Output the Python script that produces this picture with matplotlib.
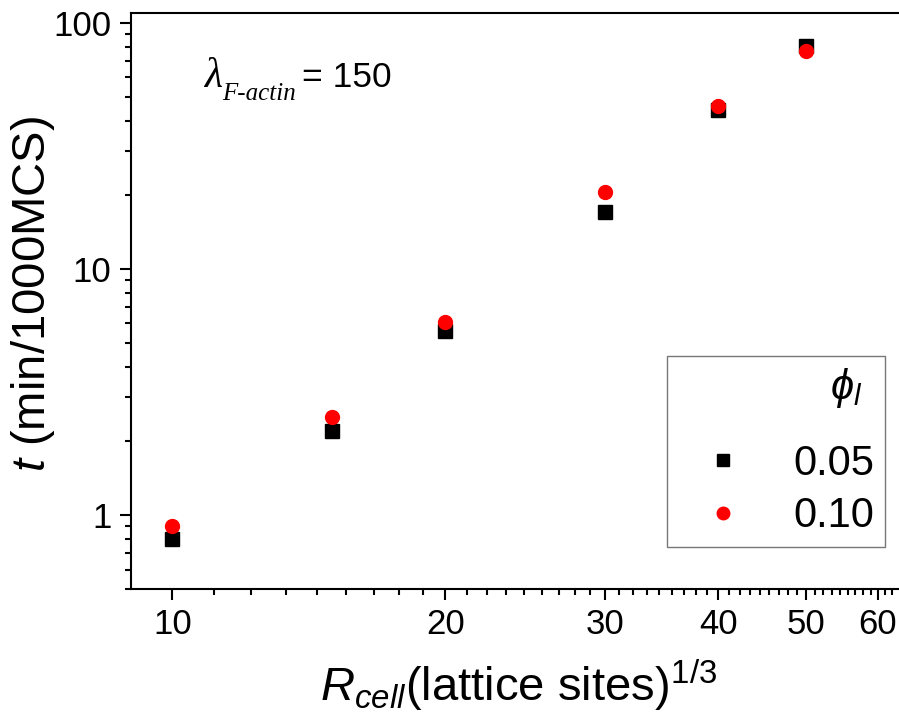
import numpy as np
import matplotlib
matplotlib.use("Agg")
import matplotlib.pyplot as plt
from matplotlib.ticker import FixedLocator, NullFormatter, LogLocator

# data
r_cell = [10, 15, 20, 30, 40, 50]
t_005 = [0.80, 2.20, 5.6, 17.0, 44.0, 80.5]
t_010 = [0.90, 2.50, 6.1, 20.5, 46.0, 76.5]
phi_labels = ["0.05", "0.10"]
x_major = [10, 20, 30, 40, 50, 60]
y_major = [1, 10, 100]

plt.rcParams["font.family"] = ["Liberation Sans", "DejaVu Sans"]
plt.rcParams["mathtext.fontset"] = "custom"
plt.rcParams["mathtext.rm"] = "Liberation Sans"
plt.rcParams["mathtext.it"] = "Liberation Sans:italic"
plt.rcParams["mathtext.bf"] = "Liberation Sans:bold"

fig = plt.figure(figsize=(8.99, 7.19), dpi=100)
ax = fig.add_axes([131 / 899, 1 - 589 / 719, 1 - 131 / 899, (589 - 13) / 719])

ax.plot(r_cell, t_005, "s", color="black", markersize=9.5, label=phi_labels[0], linestyle="none")
ax.plot(r_cell, t_010, "o", color="#ff0000", markersize=10, label=phi_labels[1], linestyle="none")

ax.set_xscale("log")
ax.set_yscale("log")
ax.set_xlim(9.0, 63.3)
ax.set_ylim(0.5, 109.5)

# origin style minor ticks: 8 evenly spaced between majors
x_minor = []
for a in [10, 20, 30, 40, 50, 60]:
    x_minor += list(np.linspace(a, a + 10, 10)[1:-1])
ax.xaxis.set_major_locator(FixedLocator(x_major))
ax.xaxis.set_minor_locator(FixedLocator(x_minor))
ax.xaxis.set_minor_formatter(NullFormatter())
ax.set_xticklabels([str(v) for v in x_major])
ax.yaxis.set_major_locator(FixedLocator(y_major))
ax.yaxis.set_minor_locator(LogLocator(subs=np.arange(2, 10)))
ax.yaxis.set_minor_formatter(NullFormatter())
ax.set_yticklabels([str(v) for v in y_major])

ax.spines["right"].set_visible(False)
for s in ["left", "bottom", "top"]:
    ax.spines[s].set_linewidth(1.5)
ax.tick_params(which="major", direction="out", length=8, width=1.5, labelsize=25, pad=6)
ax.tick_params(which="minor", direction="out", length=4, width=1.5)

ax.set_xlabel(r"$R_{cell}$(lattice sites)$^{1/3}$", fontsize=34)
ax.set_ylabel(r"$t$ (min/1000MCS)", fontsize=34)
ax.xaxis.set_label_coords(0.505, -0.118)
ax.yaxis.set_label_coords(-0.097, 0.512)

# lambda_F-actin = 150
fig.text(204 / 899, 1 - 87 / 719, "λ", fontsize=30, family="Liberation Serif",
         style="italic", va="baseline", ha="left")
fig.text(222 / 899, 1 - 100 / 719, "F-actin", fontsize=18, family="Liberation Serif",
         style="italic", va="baseline", ha="left")
fig.text(302 / 899, 1 - 87 / 719, "= 150", fontsize=25.5, va="baseline", ha="left")

leg = ax.legend(loc="upper right", bbox_to_anchor=(885 / 899, 1 - 356 / 719),
                bbox_transform=fig.transFigure, borderaxespad=0, fontsize=30,
                title=r"$\phi_l$" + "  ", title_fontsize=30, alignment="right",
                fancybox=False, edgecolor="#777777", framealpha=1,
                handlelength=2.2, handletextpad=0.6, borderpad=0.25,
                labelspacing=0.3, markerscale=0.9)
leg.get_frame().set_linewidth(1.0)
leg._legend_box.sep = 24

fig.savefig("out.png", dpi=100)
